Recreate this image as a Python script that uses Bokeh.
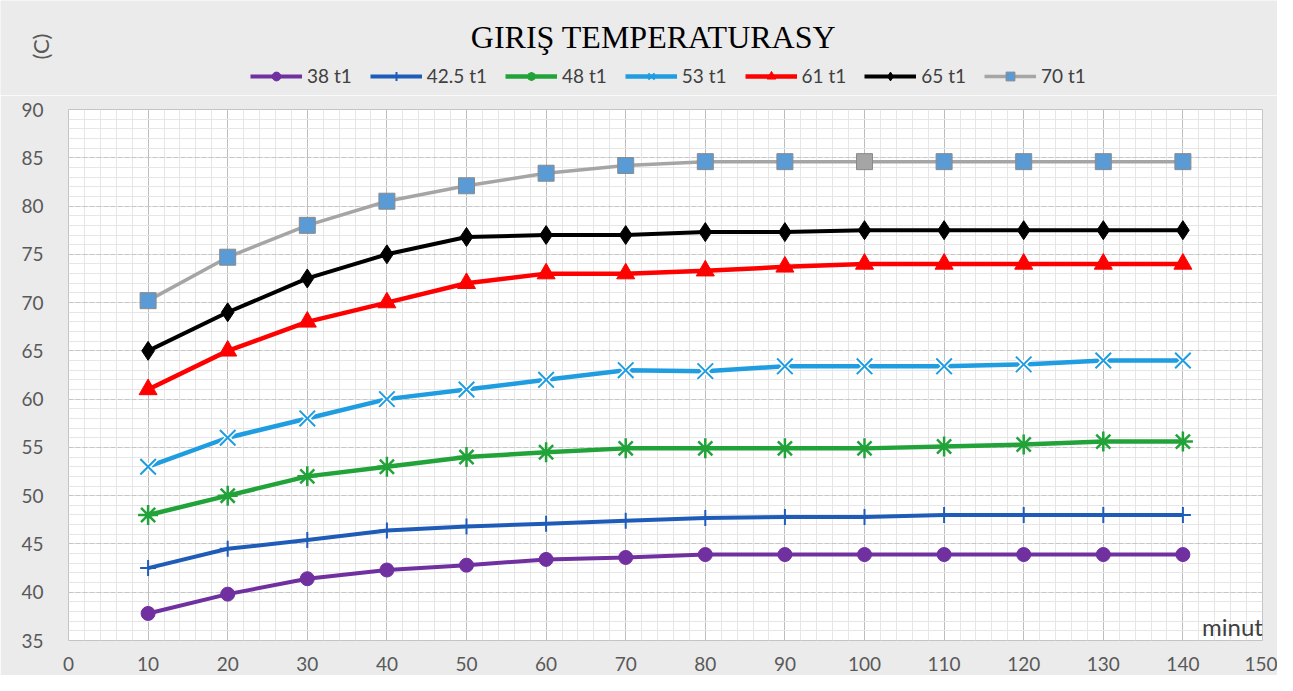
from bokeh.plotting import figure
from bokeh.models import Range1d, SingleIntervalTicker, Label, Legend, LegendItem
from bokeh.embed import file_html
from bokeh.resources import INLINE
import math

minutes = [10, 20, 30, 40, 50, 60, 70, 80, 90, 100, 110, 120, 130, 140]
t38 = [37.8, 39.8, 41.4, 42.3, 42.8, 43.4, 43.6, 43.9, 43.9, 43.9, 43.9, 43.9, 43.9, 43.9]
t42_5 = [42.5, 44.5, 45.4, 46.4, 46.8, 47.1, 47.4, 47.7, 47.8, 47.8, 48.0, 48.0, 48.0, 48.0]
t48 = [48.0, 50.0, 52.0, 53.0, 54.0, 54.5, 54.9, 54.9, 54.9, 54.9, 55.1, 55.3, 55.6, 55.6]
t53 = [53.0, 56.0, 58.0, 60.0, 61.0, 62.0, 63.0, 62.9, 63.4, 63.4, 63.4, 63.6, 64.0, 64.0]
t61 = [61.0, 65.0, 68.0, 70.0, 72.0, 73.0, 73.0, 73.3, 73.7, 74.0, 74.0, 74.0, 74.0, 74.0]
t65 = [65.0, 69.0, 72.5, 75.0, 76.8, 77.0, 77.0, 77.3, 77.3, 77.5, 77.5, 77.5, 77.5, 77.5]
t70 = [70.2, 74.7, 78.0, 80.5, 82.1, 83.4, 84.2, 84.6, 84.6, 84.6, 84.6, 84.6, 84.6, 84.6]
labels = ["38 t1", "42.5 t1", "48 t1", "53 t1", "61 t1", "65 t1", "70 t1"]
title_text = "GIRIŞ  TEMPERATURASY"
y_unit = "(C)"
x_unit = "minut"

BG = "#ebebeb"
series = [t38, t42_5, t48, t53, t61, t65, t70]
colors = ["#7030a0", "#1f5cb8", "#22a33a", "#1f9de0", "#ff0000", "#000000", "#a5a5a5"]
widths = [4, 4, 4.5, 4.5, 4.5, 4, 3.5]


def draw(fig, xs, vals, i):
    col, lw = colors[i], widths[i]
    rs = [fig.line(xs, vals, line_color=col, line_width=lw)]
    if i == 0:
        rs.append(fig.scatter(xs, vals, marker="circle", size=14, fill_color=col, line_color=col))
    elif i == 1:
        rs.append(fig.scatter(xs, vals, marker="cross", size=16, line_color=col, line_width=2))
    elif i == 2:
        rs.append(fig.scatter(xs, vals, marker="asterisk", size=20, line_color=col, line_width=2.5))
    elif i == 3:
        fig.scatter(xs, vals, marker="x", size=22, line_color="white", line_width=5)
        rs.append(fig.scatter(xs, vals, marker="x", size=22, line_color=col, line_width=2))
    elif i == 4:
        rs.append(fig.scatter(xs, vals, marker="triangle", size=18, fill_color=col, line_color=col))
    elif i == 5:
        rs.append(fig.scatter(xs, vals, marker="diamond", size=19, fill_color=col, line_color=col))
    else:
        fills = ["#5b9bd5"] * len(xs)
        fills[9] = "#a5a5a5"
        rs.append(fig.scatter(xs, vals, marker="square", size=16, fill_color=fills,
                              line_color="#8a8a8a"))
    return rs


# ---- header: title, unit label, legend (same series, outside the header's view) ----
HEAD_H = 95
h = figure(width=1277, height=HEAD_H, output_backend="svg", toolbar_location=None,
           x_range=Range1d(1000, 1001), y_range=Range1d(1000, 1001),
           x_axis_type=None, y_axis_type=None,
           min_border=0, min_border_left=0, min_border_right=0, min_border_top=0, min_border_bottom=0)
h.title.visible = False
h.background_fill_color = BG
h.border_fill_color = BG
h.outline_line_color = None
h.grid.visible = False

items = []
for i, (vals, lab) in enumerate(zip(series, labels)):
    items.append(LegendItem(label=lab, renderers=draw(h, minutes, vals, i)))
legend = Legend(items=items, orientation="horizontal", location=(250, 8),
                glyph_width=52, glyph_height=22, label_standoff=5, spacing=18,
                padding=0, margin=0, background_fill_alpha=0, border_line_color=None,
                label_text_font="Lato", label_text_font_size="19px", label_text_color="#404040")
h.add_layout(legend, "center")
h.add_layout(Label(x=657, y=HEAD_H - 36, x_units="screen", y_units="screen", text=title_text,
                   text_font="Liberation Serif", text_font_size="32px", text_color="black",
                   text_align="center", text_baseline="middle"))
h.add_layout(Label(x=40, y=HEAD_H - 46, x_units="screen", y_units="screen", text=y_unit,
                   angle=math.pi / 2, text_font="Lato", text_font_size="22px", text_color="#595959",
                   text_align="center", text_baseline="middle"))

# ---- main chart ----
p = figure(width=1277, height=675 - HEAD_H, output_backend="svg", toolbar_location=None,
           x_range=Range1d(0, 150), y_range=Range1d(35, 90),
           min_border_left=68, min_border_right=15, min_border_top=109 - HEAD_H, min_border_bottom=35)
p.title.visible = False
p.background_fill_color = "white"
p.border_fill_color = BG
p.outline_line_color = "#c4c4c4"

p.xaxis.ticker = SingleIntervalTicker(interval=10, num_minor_ticks=5)
p.yaxis.ticker = SingleIntervalTicker(interval=5, num_minor_ticks=5)
for ax in (p.xaxis, p.yaxis):
    ax.axis_line_color = None
    ax.major_tick_line_color = None
    ax.minor_tick_line_color = None
    ax.major_tick_out = 0
    ax.major_tick_in = 0
    ax.major_label_text_font = "Lato"
    ax.major_label_text_font_size = "19px"
    ax.major_label_text_color = "#595959"
p.yaxis.major_label_standoff = 21
p.xaxis.major_label_standoff = 12

p.xgrid.grid_line_color = "#bdbdbd"
p.xgrid.grid_line_width = 1
p.ygrid.grid_line_color = "#c6c6c6"
p.ygrid.grid_line_dash = "5 2"
p.xgrid.minor_grid_line_color = "#e6e6e6"
p.ygrid.minor_grid_line_color = "#e6e6e6"

for i, vals in enumerate(series):
    draw(p, minutes, vals, i)

p.add_layout(Label(x=1164, y=14, x_units="screen", y_units="screen", text=x_unit,
                   text_font="Lato", text_font_size="24px", text_color="#404040",
                   text_align="center", text_baseline="middle"))

open("out.html", "w").write(file_html([h, p], INLINE))
